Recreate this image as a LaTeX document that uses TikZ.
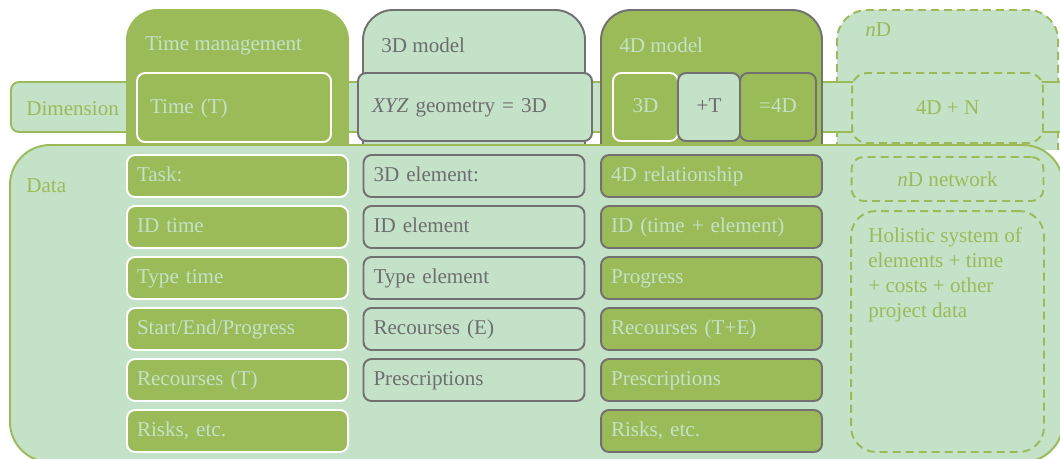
\documentclass[tikz,border=0pt]{standalone}
\usepackage{fontspec}
\setmainfont{Liberation Serif}

\definecolor{dkgreen}{HTML}{9BBB59}
\definecolor{ltgreen}{HTML}{C3E2C7}
\definecolor{edgegray}{HTML}{727070}
\definecolor{textgray}{HTML}{6E6E6E}

\tikzset{
    lbl/.style={font=\fontsize{12}{14.2}\selectfont, inner sep=0pt},
    cell/.style={lbl, rounded corners=0.16cm, line width=1.1pt, inner xsep=0.2cm,
        text width=4.02cm, minimum height=0.84cm, align=left,
        text height=0.66em, text depth=0pt},
    whitecell/.style={cell, draw=white, fill=dkgreen, text=ltgreen},
    graycell/.style={cell, draw=edgegray, fill=ltgreen, text=textgray},
    darkcell/.style={cell, draw=edgegray, fill=dkgreen, text=ltgreen},
    dashcell/.style={lbl, line width=1.1pt, draw=dkgreen, fill=ltgreen, text=dkgreen,
        dash pattern=on 0.16cm off 0.1cm, align=center},
    tab/.style={line width=1.1pt, rounded corners=0.6cm}
}

\begin{document}
\begin{tikzpicture}[x=0.02cm, y=-0.02cm]
        \useasboundingbox (0,0) rectangle (1060,458);

        % nD column and dimension strip
        \draw[tab, dkgreen, fill=ltgreen, dash pattern=on 0.16cm off 0.1cm] (837,150) -- (837,10) -- (1058,10) -- (1058,150);
        \draw[dkgreen, fill=ltgreen, line width=1.1pt, rounded corners=0.16cm] (1090,82) -- (11,82) -- (11,132) -- (1090,132);

        % columns
        \draw[tab, dkgreen, fill=dkgreen] (127,150) -- (127,10) -- (348,10) -- (348,150);
        \draw[tab, edgegray, fill=ltgreen] (363,150) -- (363,10) -- (585,10) -- (585,150);
        \draw[tab, edgegray, fill=dkgreen] (601,150) -- (601,10) -- (822,10) -- (822,150);

        % data area
        \draw[dkgreen, fill=ltgreen, line width=1.1pt, rounded corners=0.8cm] (10,145) rectangle (1063,462);

        \node[lbl, text=ltgreen, anchor=base west] (tm) at (145,50) {Time management};
        \node[lbl, text=textgray, anchor=base west] (m3) at (381,52) {3D model};
        \node[lbl, text=ltgreen, anchor=base west] (m4) at (619,52) {4D model};
        \node[lbl, text=dkgreen, anchor=base west] (mn) at (865,36) {\textit{n}D};
        \node[lbl, text=dkgreen, anchor=base west] (dim) at (26,115) {Dimension};
        \node[lbl, text=dkgreen, anchor=base west] (data) at (26,192) {Data};

        % dimension row
        \node[whitecell, text width=3.36cm, inner xsep=0.26cm, minimum height=1.38cm] (time) at (234,107.5) {Time (T)};
        \node[graycell, text width=4.12cm, inner xsep=0.28cm, minimum height=1.36cm] (xyz) at (475,107) {\textit{XYZ} geometry = 3D};
        \node[whitecell, text width=0.9cm, align=center, minimum height=1.36cm] (d3) at (645.5,107) {3D};
        \node[graycell, text width=0.84cm, align=center, minimum height=1.36cm] (pt) at (709,107) {+T};
        \node[darkcell, text width=1.12cm, align=center, minimum height=1.36cm] (d4) at (778,107) {=4D};
        \node[dashcell, rounded corners=0.3cm, minimum width=3.82cm, minimum height=1.4cm] (dn) at (947.5,108) {4D + N};

        % time management data
        \node[whitecell] (task) at (237.5,176) {Task:};
        \node[whitecell] (idt) at (237.5,227) {ID time};
        \node[whitecell] (tyt) at (237.5,278) {Type time};
        \node[whitecell] (sep) at (237.5,329) {Start/End/Progress};
        \node[whitecell] (rest) at (237.5,380) {Recourses (T)};
        \node[whitecell] (risk1) at (237.5,431) {Risks, etc.};

        % 3D model data
        \node[graycell] (el) at (474,176) {3D element:};
        \node[graycell] (ide) at (474,227) {ID element};
        \node[graycell] (tye) at (474,278) {Type element};
        \node[graycell] (rese) at (474,329) {Recourses (E)};
        \node[graycell] (pre1) at (474,380) {Prescriptions};

        % 4D model data
        \node[darkcell] (rel) at (711.5,176) {4D relationship};
        \node[darkcell] (idte) at (711.5,227) {ID (time + element)};
        \node[darkcell] (prog) at (711.5,278) {Progress};
        \node[darkcell] (reste) at (711.5,329) {Recourses (T+E)};
        \node[darkcell] (pre2) at (711.5,380) {Prescriptions};
        \node[darkcell] (risk2) at (711.5,431) {Risks, etc.};

        % nD data
        \node[dashcell, rounded corners=0.24cm, minimum width=3.84cm, minimum height=0.88cm] (net) at (947.5,179) {\textit{n}D network};
        \node[dashcell, rounded corners=0.5cm, minimum width=3.86cm, minimum height=4.82cm] (hol) at (947.5,331.5) {};
        \node[lbl, text=dkgreen, anchor=north west, align=left] (holtext) at (868,227)
            {Holistic system of\\elements + time\\+ costs + other\\project data};

    \end{tikzpicture}
\end{document}
